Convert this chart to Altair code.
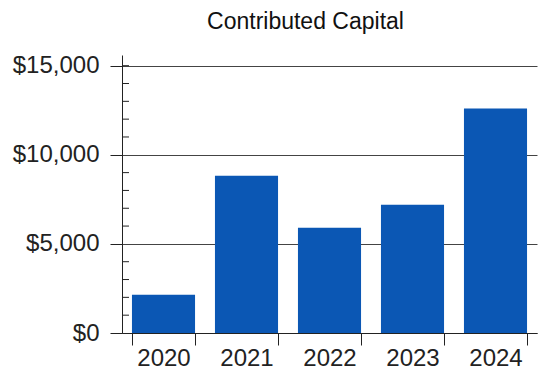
import altair as alt
import pandas as pd

years = ["2020", "2021", "2022", "2023", "2024"]
values = [2150, 8820, 5900, 7200, 12600]
major_ticks = [0, 5000, 10000, 15000]
minor_ticks = [1000, 2000, 3000, 4000, 6000, 7000, 8000, 9000, 11000, 12000, 13000, 14000, 15000]

df = pd.DataFrame({"year": years, "value": values})
minor_df = pd.DataFrame({"v": minor_ticks})

FONT = "Liberation Sans"
yscale = alt.Scale(domain=[0, 15600], nice=False, zero=True)

bars = alt.Chart(df).mark_bar(color="#0b57b4").encode(
    x=alt.X("year:N", sort=years, title=None,
            scale=alt.Scale(paddingInner=0.24, paddingOuter=0.12),
            axis=alt.Axis(labelAngle=0, tickBand="extent", tickSize=12,
                          tickColor="#222", domainColor="#222", labelPadding=1,
                          labelFontSize=24, labelColor="#222", labelFont=FONT)),
    y=alt.Y("value:Q", title=None, scale=yscale,
            axis=alt.Axis(values=major_ticks, format="$,.0f", grid=True,
                          gridColor="#444", gridWidth=1, tickSize=12,
                          tickColor="#222", domainColor="#222", labelPadding=11,
                          labelFontSize=24, labelColor="#222", labelFont=FONT)),
)

minor = alt.Chart(minor_df).mark_rule(color="#222", strokeWidth=1).encode(
    x=alt.value(0), x2=alt.value(7),
    y=alt.Y("v:Q", scale=yscale),
)

chart = alt.layer(bars, minor).properties(
    width=415, height=278,
    autosize=alt.AutoSizeParams(type="none"),
    padding={"left": 122, "top": 55, "right": 1, "bottom": 42},
    title=alt.TitleParams("Contributed Capital", fontSize=23, font=FONT,
                          fontWeight="normal", color="#111", anchor="middle",
                          dx=-24, offset=20),
).configure_view(stroke=None)

chart.save("out.html", embed_options={"renderer": "svg", "actions": False})
